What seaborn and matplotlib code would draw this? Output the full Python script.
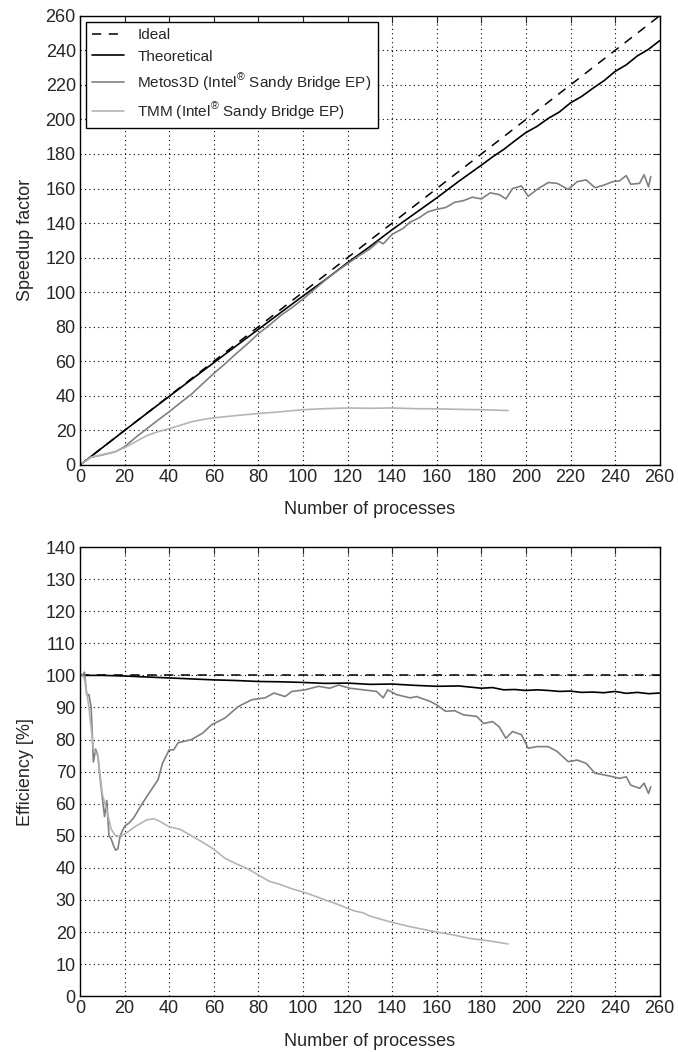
import matplotlib
matplotlib.use("Agg")
import matplotlib.pyplot as plt
import seaborn as sns

# Ideal
ideal_x = [0, 260]
ideal_speedup = [0, 260]
ideal_eff = [100, 100]

# Theoretical
theo_x = [1, 10, 20, 30, 40, 50, 60, 70, 80, 90, 100, 110, 120, 130, 140, 150, 160,
          170, 180, 185, 190, 195, 200, 205, 210, 215, 220, 225, 230, 235, 240, 245,
          250, 255, 260]
theo_speedup = [1, 10, 20, 29.9, 39.7, 49.5, 59.2, 68.9, 78.5, 88.2, 97.8, 107.2, 117.1,
                126.4, 136.2, 145.4, 154.6, 164.3, 173.5, 178.3, 182.6, 187.6, 192.4,
                196.0, 200.6, 204.3, 209.6, 213.3, 218.0, 222.4, 227.8, 231.6, 236.8,
                240.6, 245.6]
theo_eff = [100, 100, 99.8, 99.5, 99.2, 98.9, 98.6, 98.4, 98.1, 98.0, 97.8, 97.5, 97.6,
            97.2, 97.3, 96.9, 96.6, 96.7, 96.0, 96.2, 95.5, 95.6, 95.3, 95.5, 95.3,
            95.0, 95.1, 94.7, 94.8, 94.6, 95.0, 94.4, 94.7, 94.3, 94.5]

# Metos3D (Intel Sandy Bridge EP)
metos_sp_x = [1, 5, 10, 16, 20, 25, 30, 35, 40, 45, 50, 55, 60, 65, 70, 75, 80, 85, 90,
              95, 100, 105, 110, 115, 120, 125, 130, 134, 136, 140, 145, 148, 152, 156,
              160, 164, 168, 172, 176, 180, 184, 188, 191, 194, 198, 201, 205, 210, 214,
              219, 223, 227, 231, 235, 239, 242, 245, 247, 251, 253, 255, 256]
metos_speedup = [1, 4.5, 5.8, 7.7, 10.6, 16, 21, 26, 30.8, 36, 41, 47, 53, 58.5, 64.4,
                 70, 76, 81, 86.5, 91, 96, 101.5, 107, 112, 116.5, 121, 125, 129.5, 128,
                 133.5, 137, 140.5, 143, 146.5, 148, 149, 152, 153, 155, 154, 157.5,
                 156.5, 154, 160, 161.5, 155.5, 159.5, 163.5, 163, 159.5, 164, 165,
                 160.5, 162, 164, 164.5, 167.5, 162.5, 163, 168, 161, 167]
metos_eff_x = [1, 2, 3, 4, 5, 6, 7, 8, 9, 10, 11, 12, 13, 14, 15, 16, 17, 18, 20, 22, 24,
               27, 30, 33, 35, 37, 40, 42, 44, 47, 50, 55, 59, 65, 71, 77, 83, 87, 92, 95,
               101, 107, 112, 116, 121, 127, 133, 136, 138, 142, 148, 151, 157, 160, 164,
               168, 172, 178, 181, 185, 188, 191, 194, 198, 201, 205, 210, 214, 219, 223,
               227, 231, 235, 239, 242, 245, 247, 251, 253, 255, 256]
metos_eff = [100, 101, 94, 94, 90, 73, 77, 75, 68, 62, 56, 61, 50, 49, 47, 45.5, 46, 50,
             53, 54, 55.5, 59, 62.3, 65.4, 67.5, 72.6, 76.8, 76.8, 79, 79.5, 80, 82, 84.6,
             86.7, 90.3, 92.4, 93, 94.5, 93.4, 95, 95.5, 96.6, 96, 97, 96, 95.5, 95, 93,
             95.5, 94, 93, 93.4, 91.9, 90.8, 88.8, 89, 87.7, 87.2, 85, 85.6, 84, 80.4,
             82.5, 81.5, 77.3, 77.8, 77.8, 76.3, 73.1, 73.6, 72.6, 69.5, 69, 68.4, 67.9,
             68.4, 65.8, 64.8, 66.4, 63.2, 65.3]

# TMM (Intel Sandy Bridge EP)
tmm_sp_x = [1, 5, 10, 16, 20, 25, 30, 35, 40, 45, 50, 55, 60, 70, 80, 90, 100, 110, 120,
            130, 140, 150, 160, 170, 180, 192]
tmm_speedup = [1, 4.5, 6, 7.8, 10, 13.5, 17, 19.3, 21, 23, 25, 26.3, 27.3, 28.6, 29.8,
               30.8, 32, 32.6, 33, 32.8, 33, 32.6, 32.5, 32.2, 32, 31.5]
tmm_eff_x = [1, 2, 4, 6, 8, 10, 12, 14, 16, 18, 20, 25, 30, 33, 35, 40, 45, 50, 55, 60,
             65, 70, 75, 80, 85, 90, 95, 100, 105, 110, 115, 120, 123, 127, 130, 139,
             148, 157, 166, 175, 184, 192]
tmm_eff = [100, 99, 90, 77, 75, 63, 58, 52, 50, 50, 50.5, 53, 55, 55.3, 54.8, 52.8, 52,
           50, 48, 45.8, 43, 41.3, 39.8, 37.8, 35.8, 34.8, 33.5, 32.5, 31.3, 30, 28.8,
           27.4, 26.6, 26, 25, 23.2, 21.7, 20.4, 19.3, 18, 17.2, 16.3]

sns.set_style("white")
plt.rcParams['font.family'] = ['Liberation Sans', 'DejaVu Sans']
plt.rcParams['mathtext.fontset'] = 'custom'
plt.rcParams['mathtext.rm'] = 'Liberation Sans'
plt.rcParams['font.size'] = 13

fig = plt.figure(figsize=(6.78, 10.52), dpi=100)
ax1 = fig.add_axes([0.118, 0.558, 0.855, 0.427])
ax2 = fig.add_axes([0.118, 0.053, 0.855, 0.427])

lab_metos = r'Metos3D (Intel$^{\circledR}$ Sandy Bridge EP)'
lab_tmm = r'TMM (Intel$^{\circledR}$ Sandy Bridge EP)'

sns.lineplot(x=ideal_x, y=ideal_speedup, ax=ax1, color='black', lw=1.1,
             linestyle=(0, (6, 5)), label='Ideal')
sns.lineplot(x=theo_x, y=theo_speedup, ax=ax1, color='black', lw=1.2, label='Theoretical')
sns.lineplot(x=metos_sp_x, y=metos_speedup, ax=ax1, color='#808080', lw=1.2, label=lab_metos)
sns.lineplot(x=tmm_sp_x, y=tmm_speedup, ax=ax1, color='#b4b4b4', lw=1.2, label=lab_tmm)

sns.lineplot(x=ideal_x, y=ideal_eff, ax=ax2, color='black', lw=1.1, linestyle=(0, (6, 5)))
sns.lineplot(x=theo_x, y=theo_eff, ax=ax2, color='black', lw=1.2)
sns.lineplot(x=metos_eff_x, y=metos_eff, ax=ax2, color='#808080', lw=1.2)
sns.lineplot(x=tmm_eff_x, y=tmm_eff, ax=ax2, color='#b4b4b4', lw=1.2)

for ax, top, step, ylab in [(ax1, 260, 20, 'Speedup factor'), (ax2, 140, 10, 'Efficiency [%]')]:
    ax.set_xlim(0, 260)
    ax.set_ylim(0, top)
    ax.set_xticks(range(0, 261, 20))
    ax.set_yticks(range(0, top + 1, step))
    ax.grid(True, color='black', linestyle=(0, (1, 3)), linewidth=0.8)
    ax.tick_params(direction='in', top=True, right=True, length=5, labelsize=13, pad=3)
    for s in ax.spines.values():
        s.set_visible(True)
        s.set_color('black')
        s.set_linewidth(1.0)
    ax.set_xlabel('Number of processes', fontsize=13, labelpad=11)
    ax.set_ylabel(ylab, fontsize=13, labelpad=8)

leg = ax1.legend(loc='upper left', fontsize=11, handlelength=2.1, handletextpad=0.85,
                 borderaxespad=0.4, fancybox=False, framealpha=1, edgecolor='black',
                 labelspacing=0.5)
leg.get_frame().set_linewidth(1.0)
if ax2.get_legend():
    ax2.get_legend().remove()

fig.savefig('out.png', dpi=100)
